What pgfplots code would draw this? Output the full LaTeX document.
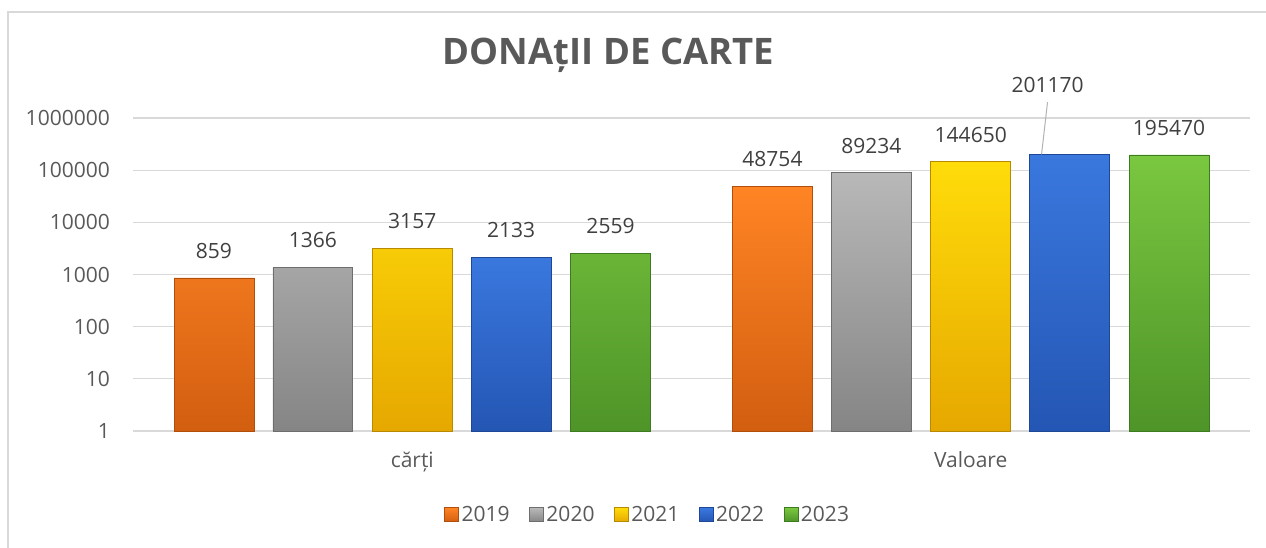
\documentclass[border=0pt]{standalone}
\usepackage{pgfplots}
\pgfplotsset{compat=1.18}
\usepackage{fontspec}
\setmainfont{Open Sans}
\definecolor{txt}{HTML}{595959}
\definecolor{lbl}{HTML}{404040}
\definecolor{gridc}{HTML}{D9D9D9}
\definecolor{framec}{HTML}{D9D9D9}
\definecolor{orT}{HTML}{FF8424}\definecolor{orB}{HTML}{D25E10}\definecolor{orD}{HTML}{B04E0C}
\definecolor{grT}{HTML}{B8B8B8}\definecolor{grB}{HTML}{858585}\definecolor{grD}{HTML}{6E6E6E}
\definecolor{yeT}{HTML}{FFDC0A}\definecolor{yeB}{HTML}{E6A800}\definecolor{yeD}{HTML}{B88A00}
\definecolor{blT}{HTML}{3A78DE}\definecolor{blB}{HTML}{2456B4}\definecolor{blD}{HTML}{1E4896}
\definecolor{gnT}{HTML}{7AC740}\definecolor{gnB}{HTML}{4E9428}\definecolor{gnD}{HTML}{3E7A20}
\pgfplotsset{sqlegend/.style={legend image code/.code={\draw[##1] (0pt,-7pt) rectangle (14pt,7pt);}}}
\newcommand{\fnt}{\fontsize{21}{25}\selectfont}
\begin{document}
\begin{tikzpicture}[x=1pt,y=1pt]
\useasboundingbox (0,0) rectangle (1266,547);
\draw[color=framec, line width=1.5pt] (8,-5) -- (8,535) -- (1280,535);
\node[anchor=base, font=\fontsize{36.5}{42}\selectfont\bfseries, text=txt] at (608.5,482) {DONAțII DE CARTE};
\begin{axis}[
  at={(133pt,116pt)}, anchor=south west, scale only axis,
  width=1117pt, height=313pt,
  ymode=log, ymin=1, ymax=1000000,
  xmin=-0.5, xmax=1.5,
  clip=false,
  ymajorgrids, major grid style={color=gridc, line width=1.2pt},
  ytick={1,10,100,1000,10000,100000,1000000},
  yticklabels={1,10,100,1000,10000,100000,1000000},
  xtick={0,1}, xticklabels={cărți,Valoare},
  tick style={draw=none},
  axis line style={draw=none},
  yticklabel style={font=\fnt, text=txt, inner sep=0pt, anchor=east, xshift=-23pt},
  xticklabel style={font=\fnt, text=txt, inner sep=0pt, anchor=base, yshift=-36pt},
  point meta=explicit symbolic,
  nodes near coords style={font=\fnt, text=lbl, inner sep=0pt, anchor=south, yshift=19pt},
  legend style={draw=none, fill=none, at={(0.461,-0.268)}, anchor=center,
    legend columns=-1, font=\fnt, text=txt,
    nodes={inner sep=2.5pt},
    /tikz/every even column/.append style={column sep=17pt}},
]
\addplot[ybar, sqlegend, bar width=0.143, bar shift=0pt, top color=orT, bottom color=orB, draw=orD, line width=0.8pt, nodes near coords]
  coordinates {(-0.355,859) [859] (0.645,48754) [48754]};
\addlegendentry{2019}
\addplot[ybar, sqlegend, bar width=0.143, bar shift=0pt, top color=grT, bottom color=grB, draw=grD, line width=0.8pt, nodes near coords]
  coordinates {(-0.178,1366) [1366] (0.822,89234) [89234]};
\addlegendentry{2020}
\addplot[ybar, sqlegend, bar width=0.143, bar shift=0pt, top color=yeT, bottom color=yeB, draw=yeD, line width=0.8pt, nodes near coords]
  coordinates {(0,3157) [3157] (1,144650) [144650]};
\addlegendentry{2021}
\addplot[ybar, sqlegend, bar width=0.143, bar shift=0pt, top color=blT, bottom color=blB, draw=blD, line width=0.8pt, nodes near coords]
  coordinates {(0.177,2133) [2133]};
\addlegendentry{2022}
\addplot[ybar, forget plot, bar width=0.143, bar shift=0pt, top color=blT, bottom color=blB, draw=blD, line width=0.8pt]
  coordinates {(1.177,201170) [201170]};
\addplot[ybar, sqlegend, bar width=0.143, bar shift=0pt, top color=gnT, bottom color=gnB, draw=gnD, line width=0.8pt, nodes near coords]
  coordinates {(0.355,2559) [2559] (1.355,195470) [195470]};
\addlegendentry{2023}
\draw[color=gray!60, line width=1pt] (axis cs:1.1268,201170) -- (axis cs:1.1375,2020000);
\node[anchor=base, font=\fnt, text=lbl] at (axis cs:1.1375,3150000) {201170};
\end{axis}
\end{tikzpicture}
\end{document}
